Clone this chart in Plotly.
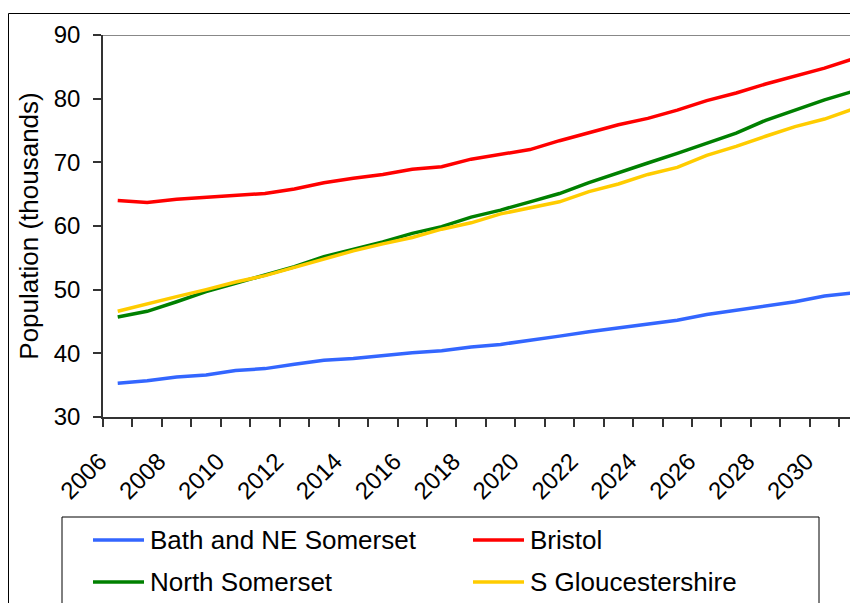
import plotly.graph_objects as go

# ---- data ----
years = list(range(2006, 2032))
bath = [35.3, 35.7, 36.3, 36.6, 37.3, 37.6, 38.3, 38.9, 39.2, 39.7, 40.1, 40.4, 41.0,
        41.4, 42.0, 42.7, 43.4, 44.0, 44.7, 45.2, 46.1, 46.8, 47.4, 48.1, 49.0, 49.5]
bristol = [64.0, 63.7, 64.2, 64.5, 64.8, 65.1, 65.8, 66.8, 67.5, 68.1, 68.9, 69.3, 70.5,
           71.2, 72.0, 73.4, 74.7, 75.9, 76.9, 78.2, 79.7, 80.9, 82.3, 83.6, 84.8, 86.3]
north_somerset = [45.7, 46.6, 48.1, 49.7, 51.0, 52.3, 53.6, 55.2, 56.3, 57.5, 58.85, 59.9, 61.4,
                  62.5, 63.8, 65.1, 66.8, 68.4, 69.9, 71.4, 73.0, 74.6, 76.6, 78.2, 79.8, 81.2]
s_glos = [46.6, 47.8, 48.9, 50.0, 51.2, 52.2, 53.5, 54.8, 56.1, 57.2, 58.2, 59.5, 60.5,
          61.9, 62.8, 63.8, 65.4, 66.6, 68.1, 69.2, 71.1, 72.5, 74.1, 75.6, 76.8, 78.4]

series_names = ["Bath and NE Somerset", "Bristol", "North Somerset", "S Gloucestershire"]
series_values = [bath, bristol, north_somerset, s_glos]
series_colors = ["#3366FF", "#FF0000", "#008000", "#FFCC00"]
tick_labels = [str(y) for y in range(2006, 2031, 2)]
y_ticks = [30, 40, 50, 60, 70, 80, 90]

# ---- layout geometry (pixels) ----
# the page body adds an 8px margin, so the figure is drawn 8px right/down
OFF = 8
W, H = 858 - OFF, 603 - OFF
L, R, T = 103 - OFF, 0, 35 - OFF
B = H - (417 - OFF)
PW, PH = W - L - R, H - T - B


def px(x):
    """reference-screen x pixel -> paper coordinate"""
    return (x - OFF - L) / PW


def py(y):
    """reference-screen y pixel -> paper coordinate"""
    return (H - B - (y - OFF)) / PH


fig = go.Figure()
for name, vals, col in zip(series_names, series_values, series_colors):
    fig.add_trace(go.Scatter(x=years, y=vals, mode="lines", name=name,
                             line=dict(color=col, width=3.5), showlegend=False))

font = "Liberation Sans, Arial, sans-serif"
cat_w = 29.45
fig.update_layout(
    width=W, height=H,
    margin=dict(l=L, r=R, t=T, b=B),
    paper_bgcolor="white", plot_bgcolor="white",
    font=dict(family=font, color="black"),
    xaxis=dict(
        range=[years[0] - 0.5, years[0] - 0.5 + PW / cat_w],
        tickmode="array", tickvals=[int(t) for t in tick_labels], ticktext=tick_labels,
        tickangle=-45, tickfont=dict(size=24, family=font, color="black"),
        ticks="outside", ticklen=0, tickwidth=0,
        ticklabelshift=-18, ticklabelstandoff=19,
        minor=dict(ticks="outside", ticklen=8, tickwidth=1.5, tickcolor="#333",
                   tickmode="array", tickvals=[y - 0.5 for y in years] + [years[-1] + 0.5]),
        showline=True, linecolor="#333", linewidth=1.5,
        showgrid=False, zeroline=False, fixedrange=True,
    ),
    yaxis=dict(
        range=[30, 90], tickmode="array", tickvals=y_ticks,
        tickfont=dict(size=24, family=font, color="black"),
        ticks="outside", ticklen=8, tickwidth=1.5, tickcolor="#333",
        ticklabelstandoff=8,
        showline=True, linecolor="#333", linewidth=1.5,
        showgrid=False, zeroline=False,
        title=dict(text="Population (thousands)", font=dict(size=26, family=font, color="black"),
                   standoff=8),
    ),
)

shapes = []
# top border of plot area (grey)
shapes.append(dict(type="line", xref="paper", yref="y", x0=0, x1=1, y0=90, y1=90,
                   line=dict(color="#888888", width=2)))
# outer chart border
shapes.append(dict(type="rect", xref="paper", yref="paper", x0=px(8.5), x1=px(900),
                   y0=py(650), y1=py(13.5), line=dict(color="black", width=1), layer="below"))
# legend box
shapes.append(dict(type="rect", xref="paper", yref="paper", x0=px(62), x1=px(819),
                   y0=py(650), y1=py(517), line=dict(color="black", width=1)))

annotations = []
leg_cols = [93, 473]
leg_rows = [540, 582]
for i, (name, col) in enumerate(zip(series_names, series_colors)):
    cx = leg_cols[i % 2]
    cy = leg_rows[i // 2]
    shapes.append(dict(type="line", xref="paper", yref="paper", x0=px(cx), x1=px(cx + 51),
                       y0=py(cy), y1=py(cy), line=dict(color=col, width=3.5)))
    annotations.append(dict(xref="paper", yref="paper", x=px(cx + 55), y=py(cy), text=name,
                            showarrow=False, xanchor="left", yanchor="middle",
                            font=dict(size=26, family=font, color="black")))

fig.update_layout(shapes=shapes, annotations=annotations)
fig.write_html("out.html")
